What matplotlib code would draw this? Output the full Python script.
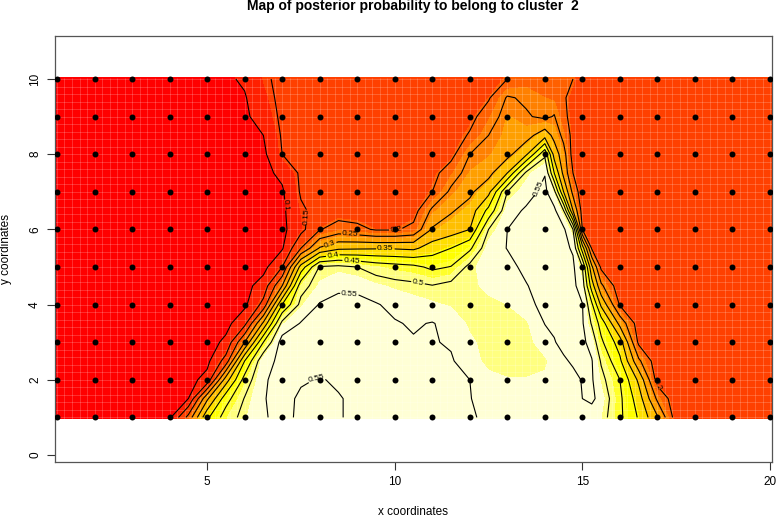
import numpy as np
from matplotlib import pyplot as plt

plt.rc('font', family='Liberation Sans')

x_coord = np.arange(1, 20.5, 0.5)
y_coord = np.arange(1, 10.5, 0.5)

# posterior probability, one row per y (1 to 10), x from 1 to 20 by 0.5
row_1_0 = [.07,.07,.07,.075,.075,.085,.09,.217,.39,.475, .516,.549,.553,.548,.546,.549,.553,.556,.558,.557, .555,.557,.553,.545,.54,.535,.535,.54,.53,.52, .46,.395,.305,.175,.165,.165,.165,.165,.165]
row_1_5 = [.07,.07,.07,.075,.075,.08,.085,.10,.29,.43, .503,.549,.556,.547,.546,.549,.553,.557,.559,.558, .557,.556,.551,.54,.53,.525,.525,.535,.55,.532, .46,.375,.24,.17,.165,.165,.165,.165,.165]
row_2_0 = [.07,.07,.07,.07,.075,.08,.08,.085,.115,.325, .47,.548,.556,.552,.549,.552,.556,.559,.56,.56, .558,.556,.55,.53,.523,.522,.525,.54,.552,.515, .45,.34,.18,.165,.165,.165,.165,.165,.165]
row_2_5 = [.07,.07,.07,.07,.075,.075,.08,.08,.088,.17, .40,.54,.557,.558,.558,.56,.56,.562,.562,.56, .555,.553,.535,.51,.50,.505,.515,.545,.565,.495, .41,.26,.17,.165,.165,.165,.165,.165,.165]
row_3_0 = [.07,.07,.07,.07,.07,.075,.075,.08,.08,.11, .25,.45,.57,.56,.56,.562,.562,.56,.56,.553, .552,.547,.525,.51,.505,.51,.535,.56,.56,.46, .375,.19,.165,.165,.165,.165,.165,.165,.165]
row_3_5 = [.07,.07,.07,.07,.07,.075,.075,.075,.078,.085, .135,.31,.515,.553,.562,.565,.565,.56,.553,.546, .552,.538,.515,.505,.505,.515,.551,.56,.555,.43, .285,.175,.165,.165,.165,.165,.165,.165,.165]
row_4_0 = [.07,.07,.07,.07,.07,.07,.075,.075,.075,.08, .09,.165,.40,.515,.553,.565,.562,.553,.54,.53, .524,.517,.51,.515,.52,.54,.56,.565,.552,.34, .195,.165,.165,.165,.165,.165,.165,.165,.165]
row_4_5 = [.07,.07,.07,.07,.07,.07,.07,.075,.075,.078, .085,.12,.25,.48,.525,.54,.54,.525,.515,.51, .502,.515,.515,.525,.54,.548,.565,.565,.525,.26, .17,.165,.165,.165,.165,.165,.165,.165,.165]
row_5_0 = [.07,.07,.07,.07,.07,.07,.07,.07,.075,.075, .078,.085,.15,.37,.505,.512,.50,.48,.47,.462, .44,.452,.515,.53,.54,.558,.565,.565,.50,.19, .168,.165,.165,.165,.165,.165,.165,.165,.165]
row_5_5 = [.07,.07,.07,.07,.07,.07,.07,.07,.075,.075, .078,.08,.095,.20,.305,.34,.343,.345,.345,.34, .375,.40,.44,.535,.551,.56,.565,.56,.375,.168, .165,.165,.165,.165,.165,.165,.165,.165,.165]
row_6_0 = [.07,.07,.07,.07,.07,.07,.07,.075,.075,.078, .08,.082,.088,.135,.197,.222,.212,.195,.195,.212, .305,.325,.35,.50,.55,.56,.565,.558,.20,.17, .165,.165,.165,.165,.165,.165,.165,.165,.165]
row_6_5 = [.07,.07,.07,.07,.07,.07,.075,.075,.075,.078, .08,.083,.09,.143,.165,.175,.175,.17,.17,.18, .26,.295,.32,.415,.535,.555,.565,.50,.18,.17, .165,.165,.165,.165,.165,.165,.165,.165,.165]
row_7_0 = [.07,.07,.07,.07,.07,.07,.075,.075,.08,.08, .082,.085,.094,.155,.162,.165,.165,.165,.165,.165, .20,.26,.29,.335,.50,.535,.56,.35,.17,.17, .165,.165,.165,.165,.165,.165,.165,.165,.165]
row_7_5 = [.07,.07,.07,.07,.07,.075,.075,.08,.08,.08, .085,.088,.11,.158,.162,.165,.165,.165,.165,.165, .185,.225,.27,.285,.35,.51,.548,.285,.17,.17, .165,.165,.165,.165,.165,.165,.165,.165,.165]
row_8_0 = [.07,.07,.07,.07,.075,.075,.08,.08,.08,.08, .085,.09,.15,.16,.165,.165,.165,.165,.165,.165, .172,.185,.25,.265,.285,.34,.49,.27,.175,.17, .165,.165,.165,.165,.165,.165,.165,.165,.165]
row_8_5 = [.07,.07,.07,.07,.075,.075,.08,.08,.085,.085, .085,.10,.155,.16,.165,.165,.165,.165,.165,.165, .17,.175,.205,.25,.275,.28,.33,.235,.175,.17, .165,.165,.165,.165,.165,.165,.165,.165,.165]
row_9_0 = [.07,.07,.07,.075,.075,.08,.08,.085,.085,.085, .09,.125,.158,.162,.165,.165,.165,.165,.165,.165, .17,.172,.185,.225,.27,.255,.24,.21,.175,.17, .165,.165,.165,.165,.165,.165,.165,.165,.165]
row_9_5 = [.07,.07,.07,.075,.075,.08,.08,.085,.085,.09, .096,.135,.16,.162,.165,.165,.165,.165,.165,.165, .17,.17,.175,.195,.255,.243,.23,.205,.175,.17, .17,.17,.17,.17,.17,.17,.17,.17,.17]
row_10_0 = [.07,.07,.07,.075,.075,.08,.08,.085,.085,.092, .107,.143,.16,.162,.165,.165,.165,.165,.165,.165, .17,.17,.17,.178,.20,.22,.225,.215,.175,.17, .17,.17,.17,.17,.17,.17,.17,.17,.17]

# extra columns where the right hand band is too steep for the 0.5 step, y from 1 to 10 by 0.5
col_14_25 = [.535,.53,.53,.53,.548,.556,.563,.565,.565,.565,.565,.56,.515,.40,.33,.285,.253,.225,.22]
col_14_75 = [.535,.545,.54,.555,.562,.562,.562,.562,.558,.545,.50,.30,.235,.20,.18,.185,.185,.185,.20]
col_15_25 = [.525,.56,.555,.553,.533,.495,.46,.375,.31,.195,.17,.17,.17,.17,.17,.17,.17,.17,.17]
extra_x = [14.25, 14.75, 15.25]

post = np.array([row_1_0, row_1_5, row_2_0, row_2_5, row_3_0, row_3_5, row_4_0, row_4_5, row_5_0, row_5_5,
                 row_6_0, row_6_5, row_7_0, row_7_5, row_8_0, row_8_5, row_9_0, row_9_5, row_10_0])
x_all = np.r_[x_coord, extra_x]
order = np.argsort(x_all)
x_all = x_all[order]
post = np.c_[post, col_14_25, col_14_75, col_15_25][:, order]

# sampling locations
site_x = list(range(1, 21))
site_y = list(range(1, 11))

# colour bands of the image
breaks = [0, .10, .142, .195, .23, .268, .31, .352, .394, .436, .478, .52, 1]
heat = ['#FF0000', '#FF2000', '#FF4000', '#FF6000', '#FF8000', '#FF9F00',
        '#FFBF00', '#FFDF00', '#FFFF00', '#FFFF2A', '#FFFF80', '#FFFFD5']

# contour levels and where their labels go
label_spots = {
    .1: [(7.13, 6.65)],
    .15: [(7.59, 6.33)],
    .2: [(10.04, 5.94), (16.95, 1.87)],
    .25: [(8.81, 5.8)],
    .3: [(8.3, 5.55)],
    .35: [(9.75, 5.47)],
    .4: [(8.35, 5.3)],
    .45: [(8.85, 5.13)],
    .5: [(10.62, 4.58)],
    .55: [(8.8, 4.35), (7.96, 1.95), (13.8, 7.1)],
}

fig = plt.figure(figsize=(7.76, 5.18), dpi=100)
ax = fig.add_axes([55 / 776, 1 - 462 / 518, (772 - 55) / 776, (462 - 35.5) / 518])

# stretch the fill out to the half cell that the image covers beyond the sites
fill_x = np.r_[.947, x_all, 20.053]
fill_y = np.r_[.97, y_coord, 10.03]
ax.contourf(fill_x, fill_y, np.pad(post, 1, mode='edge'), levels=breaks, colors=heat, zorder=1)

# pale seams between the image cells
seam_x = np.arange(1, 20.05, .2)
seam_y = np.arange(1, 10.05, .2)
ax.vlines(seam_x, .97, 10.03, color='white', lw=.6, alpha=.22, zorder=2)
ax.hlines(seam_y, .947, 20.053, color='white', lw=.6, alpha=.22, zorder=2)

for lev, spots in label_spots.items():
    cs = ax.contour(x_all, y_coord, post, levels=[lev], colors='black', linewidths=.8, zorder=3)
    ax.clabel(cs, manual=spots, fmt='%g', fontsize=6, inline=True, inline_spacing=1)

gx, gy = np.meshgrid(site_x, site_y)
ax.scatter(gx.ravel(), gy.ravel(), s=18.5, c='black', linewidths=0, zorder=4)

ax.set_xlim(.947, 20.053)
ax.set_ylim(-.186, 11.157)
ax.set_xticks([5, 10, 15, 20])
ax.set_yticks([0, 2, 4, 6, 8, 10])
ax.tick_params(length=5.5, width=.8, color='#333333', labelsize=8.5, pad=4.5)
plt.setp(ax.get_yticklabels(), rotation=90, va='center')
for s in ax.spines.values():
    s.set_linewidth(.9)
    s.set_color('#555555')

fig.text(413 / 776, 1 - 6 / 518, 'Map of posterior probability to belong to cluster  2', ha='center', va='center',
         fontsize=10, fontweight='bold')
fig.text(413 / 776, 1 - 512 / 518, 'x coordinates', ha='center', va='center', fontsize=8.5)
fig.text(6 / 776, 1 - 249 / 518, 'y coordinates', ha='center', va='center', rotation=90, fontsize=8.5)

plt.savefig('out.png', dpi=100)
